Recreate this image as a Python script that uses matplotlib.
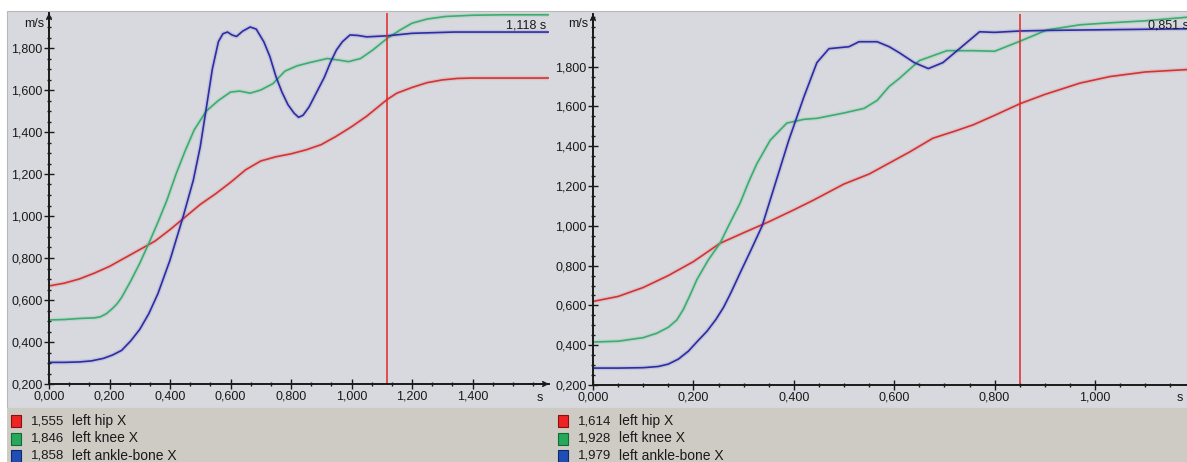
import matplotlib
matplotlib.use("Agg")

import matplotlib.pyplot as plt
from matplotlib.patches import Rectangle
from matplotlib.ticker import AutoMinorLocator, FuncFormatter
import numpy as np

# ---- left recording (cursor at 1,118 s) ----
left_cursor = 1.118

left_hip_t = [0, 0.05, 0.10, 0.15, 0.20, 0.25, 0.30, 0.35, 0.40, 0.45, 0.50, 0.55,
              0.60, 0.65, 0.70, 0.75, 0.80, 0.85, 0.90, 0.95, 1.00, 1.05, 1.118,
              1.15, 1.20, 1.25, 1.30, 1.35, 1.40, 1.50, 1.65]
left_hip_v = [0.667, 0.680, 0.700, 0.728, 0.760, 0.800, 0.840, 0.880, 0.935, 0.995,
              1.055, 1.105, 1.160, 1.220, 1.262, 1.282, 1.296, 1.315, 1.340, 1.380,
              1.425, 1.475, 1.555, 1.585, 1.612, 1.635, 1.648, 1.655, 1.657, 1.657, 1.657]

left_knee_t = [0, 0.05, 0.10, 0.15, 0.17, 0.19, 0.21, 0.225, 0.24, 0.27, 0.30, 0.33,
               0.36, 0.39, 0.42, 0.45, 0.48, 0.52, 0.56, 0.60, 0.63, 0.665, 0.70,
               0.74, 0.78, 0.82, 0.86, 0.92, 0.96, 0.99, 1.03, 1.07, 1.118, 1.16,
               1.20, 1.25, 1.31, 1.40, 1.50, 1.65]
left_knee_v = [0.505, 0.507, 0.512, 0.515, 0.520, 0.535, 0.560, 0.582, 0.612, 0.690,
               0.775, 0.870, 0.970, 1.076, 1.200, 1.310, 1.410, 1.500, 1.550, 1.590,
               1.595, 1.585, 1.600, 1.630, 1.690, 1.715, 1.730, 1.750, 1.742, 1.735,
               1.750, 1.790, 1.846, 1.885, 1.918, 1.938, 1.950, 1.956, 1.958, 1.958]

left_ankle_t = [0, 0.05, 0.10, 0.14, 0.18, 0.21, 0.24, 0.27, 0.30, 0.33, 0.36, 0.40,
                0.443, 0.477, 0.50, 0.52, 0.54, 0.56, 0.575, 0.59, 0.605, 0.62, 0.64,
                0.665, 0.685, 0.71, 0.73, 0.75, 0.77, 0.79, 0.81, 0.825, 0.84, 0.86,
                0.885, 0.91, 0.93, 0.95, 0.97, 0.995, 1.02, 1.05, 1.118, 1.20, 1.34, 1.65]
left_ankle_v = [0.303, 0.303, 0.305, 0.310, 0.322, 0.338, 0.360, 0.405, 0.460, 0.535,
                0.630, 0.790, 0.995, 1.170, 1.330, 1.514, 1.700, 1.830, 1.868, 1.876,
                1.862, 1.855, 1.880, 1.900, 1.890, 1.830, 1.760, 1.665, 1.590, 1.530,
                1.490, 1.470, 1.480, 1.520, 1.590, 1.660, 1.730, 1.790, 1.830, 1.862,
                1.860, 1.853, 1.858, 1.870, 1.876, 1.876]

# ---- right recording (cursor at 0,851 s) ----
right_cursor = 0.851

right_hip_t = [0, 0.05, 0.10, 0.15, 0.20, 0.253, 0.30, 0.35, 0.40, 0.44, 0.50, 0.55,
               0.59, 0.63, 0.677, 0.72, 0.757, 0.80, 0.851, 0.90, 0.97, 1.03, 1.10, 1.183]
right_hip_v = [0.620, 0.645, 0.690, 0.750, 0.820, 0.912, 0.965, 1.020, 1.080, 1.130,
               1.210, 1.260, 1.315, 1.370, 1.440, 1.475, 1.507, 1.555, 1.614, 1.660,
               1.717, 1.750, 1.773, 1.785]

right_knee_t = [0, 0.05, 0.10, 0.127, 0.15, 0.167, 0.18, 0.193, 0.207, 0.23, 0.253,
                0.27, 0.293, 0.31, 0.326, 0.353, 0.386, 0.42, 0.446, 0.50, 0.54,
                0.566, 0.59, 0.61, 0.65, 0.705, 0.757, 0.80, 0.851, 0.904, 0.97,
                1.03, 1.10, 1.183]
right_knee_v = [0.416, 0.420, 0.438, 0.460, 0.490, 0.527, 0.580, 0.650, 0.730, 0.830,
                0.912, 1.000, 1.114, 1.220, 1.310, 1.430, 1.516, 1.535, 1.540, 1.567,
                1.590, 1.630, 1.700, 1.740, 1.830, 1.880, 1.880, 1.877, 1.928, 1.984,
                2.010, 2.020, 2.030, 2.048]

right_ankle_t = [0, 0.05, 0.10, 0.13, 0.15, 0.17, 0.19, 0.21, 0.227, 0.245, 0.26,
                 0.275, 0.293, 0.315, 0.337, 0.353, 0.39, 0.42, 0.446, 0.47, 0.51,
                 0.53, 0.566, 0.59, 0.61, 0.64, 0.668, 0.697, 0.73, 0.77, 0.80,
                 0.851, 0.91, 1.183]
right_ankle_v = [0.285, 0.285, 0.287, 0.293, 0.305, 0.330, 0.370, 0.425, 0.470, 0.530,
                 0.590, 0.665, 0.763, 0.880, 1.000, 1.130, 1.430, 1.647, 1.820, 1.890,
                 1.900, 1.925, 1.925, 1.900, 1.870, 1.820, 1.790, 1.820, 1.890, 1.975,
                 1.972, 1.979, 1.982, 1.990]

series_names = ["left hip X", "left knee X", "left ankle-bone X"]
line_colors = ["#d63232", "#3aae6e", "#2c2ca6"]
box_colors = ["#ec2424", "#25a85a", "#1f4fb4"]
box_edges = ["#8a1010", "#126a35", "#10286a"]

left_ticks_x = [0, 0.2, 0.4, 0.6, 0.8, 1.0, 1.2, 1.4]
right_ticks_x = [0, 0.2, 0.4, 0.6, 0.8, 1.0]
ticks_y = [0.2, 0.4, 0.6, 0.8, 1.0, 1.2, 1.4, 1.6, 1.8]

W, H = 1187, 462
FONT = "Liberation Sans"


def fx(px):
    return px / W


def fy(px):
    return 1 - px / H


def comma(v, pos=None):
    return f"{v:.3f}".replace(".", ",")


fig = plt.figure(figsize=(W / 100, H / 100), dpi=100)
fig.patch.set_facecolor("white")

# window background and legend strip (kept below the axes)
fig.add_artist(Rectangle((fx(7), fy(408)), fx(W - 7), (408 - 11) / H,
                         transform=fig.transFigure, facecolor="#d8d9de",
                         edgecolor="#b8b8b8", lw=0.8, zorder=-10))
fig.add_artist(Rectangle((fx(7), 0), fx(W - 7), (H - 408) / H,
                         transform=fig.transFigure, facecolor="#cecbc4",
                         edgecolor="none", zorder=-9))


def make_panel(x0, y0, x1, y1, px_per_s, px_per_unit, xticks, minor_x):
    ax = fig.add_axes([fx(x0), fy(y0), (x1 - x0) / W, (y0 - y1) / H])
    ax.set_facecolor("none")
    ax.set_xlim(0, (x1 - x0) / px_per_s)
    ax.set_ylim(0.2, 0.2 + (y0 - y1) / px_per_unit)
    for side in ("top", "right"):
        ax.spines[side].set_visible(False)
    for side in ("left", "bottom"):
        ax.spines[side].set_color("#1a1a1a")
        ax.spines[side].set_linewidth(1.4)
    ax.set_xticks(xticks)
    ax.set_yticks(ticks_y)
    ax.xaxis.set_minor_locator(AutoMinorLocator(minor_x))
    ax.yaxis.set_minor_locator(AutoMinorLocator(4))
    ax.xaxis.set_major_formatter(FuncFormatter(comma))
    ax.yaxis.set_major_formatter(FuncFormatter(comma))
    ax.tick_params(which="major", direction="inout", length=7, width=1,
                   color="#1a1a1a", labelsize=9, labelcolor="#1a1a1a", pad=1)
    ax.tick_params(which="minor", direction="inout", length=2.5, width=1,
                   color="#1a1a1a")
    for lab in ax.get_xticklabels() + ax.get_yticklabels():
        lab.set_fontfamily(FONT)
    # arrow on the value axis
    ax.annotate("", xy=(0, 1.0), xytext=(0, 0.95), xycoords="axes fraction",
                arrowprops=dict(arrowstyle="->", lw=1.2, color="#1a1a1a",
                                mutation_scale=8, shrinkA=0, shrinkB=0),
                annotation_clip=False)
    return ax


def draw_series(ax, data, cursor):
    for (t, v), col in zip(data, line_colors):
        ax.plot(t, v, color=col, lw=3.2, alpha=0.12, solid_capstyle="butt")
        ax.plot(t, v, color=col, lw=1.2)
    ax.axvline(cursor, color="#e02828", lw=1.1)


left_data = [(left_hip_t, left_hip_v), (left_knee_t, left_knee_v),
             (left_ankle_t, left_ankle_v)]
right_data = [(right_hip_t, right_hip_v), (right_knee_t, right_knee_v),
              (right_ankle_t, right_ankle_v)]

ax1 = make_panel(49, 384, 549, 13, 302.5, 210, left_ticks_x, 3)
draw_series(ax1, left_data, left_cursor)
ax1.annotate("", xy=(1.0, 0), xytext=(0.96, 0), xycoords="axes fraction",
             arrowprops=dict(arrowstyle="->", lw=1.2, color="#1a1a1a",
                             mutation_scale=8, shrinkA=0, shrinkB=0),
             annotation_clip=False)

ax2 = make_panel(593, 385, W, 14, 502, 199, right_ticks_x, 4)
draw_series(ax2, right_data, right_cursor)

# unit labels and cursor readouts
txt = dict(fontsize=9, family=FONT, color="#1a1a1a", va="center")
fig.text(fx(44), fy(24), "m/s", ha="right", **txt)
fig.text(fx(588), fy(24), "m/s", ha="right", **txt)
fig.text(fx(540), fy(398), "s", ha="center", **txt)
fig.text(fx(1180), fy(398), "s", ha="center", **txt)
fig.text(fx(546), fy(25), comma(left_cursor) + " s", ha="right", **txt)
fig.text(fx(1148), fy(25), comma(right_cursor) + " s", ha="left", **txt)

# legend rows with values at the cursor
row_y = [421, 438.5, 456]
for x_off, data, cursor in ((0, left_data, left_cursor), (547, right_data, right_cursor)):
    for (t, v), name, fc, ec, yc in zip(data, series_names, box_colors, box_edges, row_y):
        fig.add_artist(Rectangle((fx(11 + x_off), fy(yc + 6)), 10 / W, 12 / H,
                                 transform=fig.transFigure, facecolor=fc,
                                 edgecolor=ec, lw=0.8))
        val = float(np.interp(cursor, t, v))
        fig.text(fx(31 + x_off), fy(yc), comma(val), ha="left", fontsize=9.5,
                 family=FONT, color="#1a1a1a", va="center")
        fig.text(fx(72 + x_off), fy(yc), name, ha="left", fontsize=10,
                 family=FONT, color="#1a1a1a", va="center")

fig.savefig("out.png", dpi=100)
